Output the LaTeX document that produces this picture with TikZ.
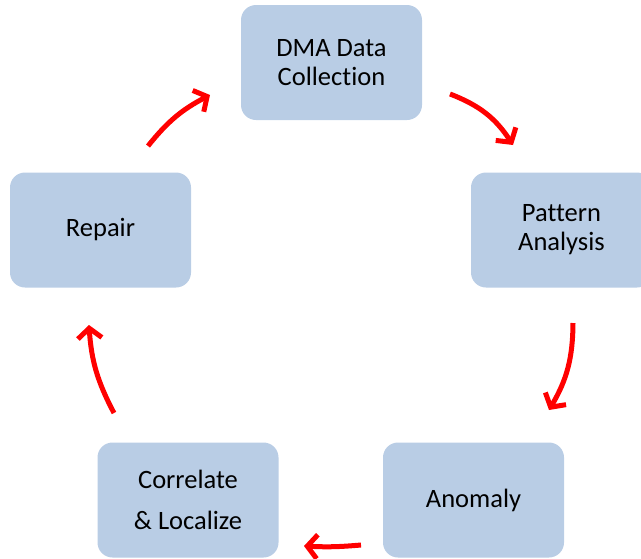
\documentclass[tikz,border=0pt]{standalone}
\usepackage{fontspec}
\setmainfont{Carlito}[Ligatures=NoCommon]
\usetikzlibrary{arrows.meta}
\definecolor{boxblue}{HTML}{B9CDE5}
\definecolor{arrred}{HTML}{FF0000}
\begin{document}
\begin{tikzpicture}[x=1pt,y=-1pt,
  box/.style={draw=none, fill=boxblue, rounded corners=15pt, minimum width=181pt, minimum height=115pt, inner sep=0pt, align=center, font=\fontsize{26.5}{29}\selectfont},
  cyc/.style={draw=arrred, line width=5pt, -{Straight Barb[length=10pt,width=24pt,line width=5pt]}}]
\useasboundingbox (0,0) rectangle (641,558);
\clip (0,0) rectangle (641,558);
\node[box] (dma) at (331.5,62.5) {DMA Data\\Collection};
\node[box] (pat) at (561.5,230) {Pattern\\Analysis};
\node[box] (ano) at (473.5,500) {Anomaly};
\node[box, font=\fontsize{26.5}{41}\selectfont] (cor) at (188,500) {Correlate\\\& Localize};
\node[box] (rep) at (100.5,230) {Repair};
\coordinate (a1s) at (450,94);  \coordinate (a1e) at (513,145);
\coordinate (a2s) at (573,323); \coordinate (a2e) at (549,410);
\coordinate (a3s) at (361,545); \coordinate (a3e) at (304,546);
\coordinate (a4s) at (114,413); \coordinate (a4e) at (89,325);
\coordinate (a5s) at (148,146); \coordinate (a5e) at (210,95);
\draw[cyc] (a1s) to[bend left=18] (a1e);
\draw[cyc] (a2s) to[bend left=15] (a2e);
\draw[cyc] (a3s) to[bend left=4] (a3e);
\draw[cyc] (a4s) to[bend left=12] (a4e);
\draw[cyc] (a5s) to[bend left=12] (a5e);
\end{tikzpicture}
\end{document}
